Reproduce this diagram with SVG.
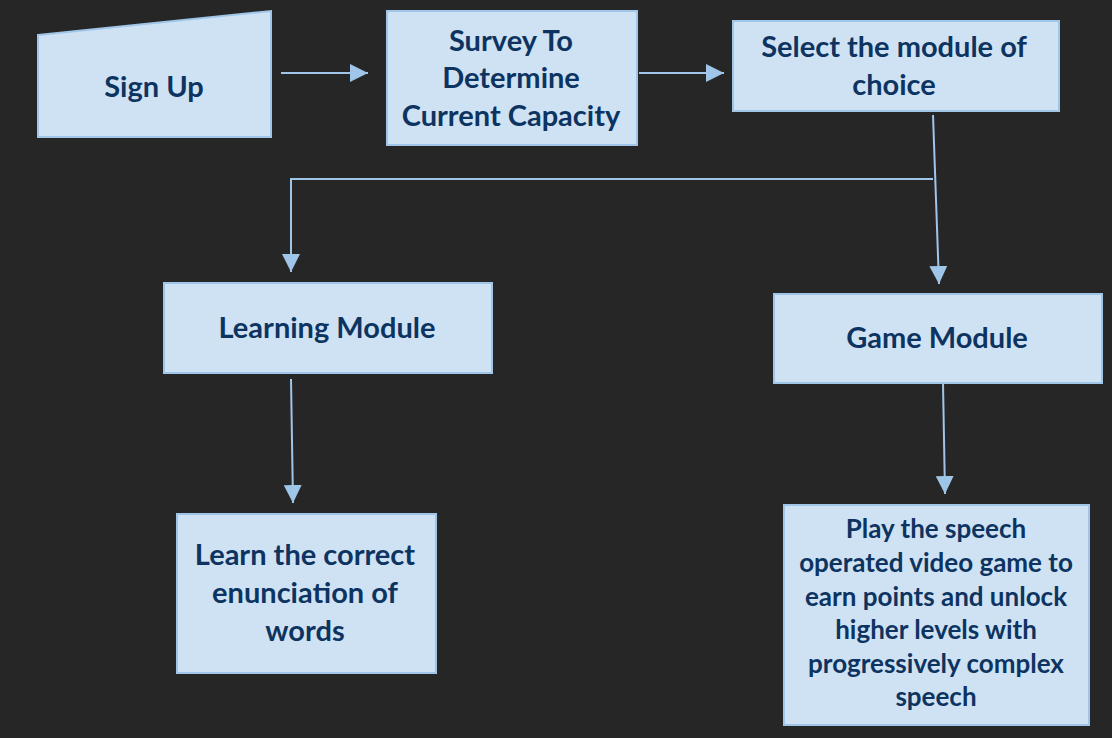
<svg xmlns="http://www.w3.org/2000/svg" width="1112" height="738" viewBox="0 0 1112 738">
<defs>
<style>
.box{fill:#cfe2f3;stroke:#9fc5e8;stroke-width:2}
.t{font-family:Lato,"Open Sans",sans-serif;font-weight:bold;font-size:29px;fill:#0d3461;text-anchor:middle}
.s{font-size:26px}
.c{fill:none;stroke:#9fc5e8;stroke-width:2}
</style>
<marker id="ah2" viewBox="0 0 10 10" refX="10" refY="5" markerWidth="18" markerHeight="18" markerUnits="userSpaceOnUse" orient="auto">
<path d="M0,0 L10,5 L0,10 Z" fill="#9fc5e8"/>
</marker>
</defs>
<rect width="1112" height="738" fill="#262626"/>
<g id="connectors">
<line class="c" x1="281" y1="73" x2="368" y2="73" marker-end="url(#ah2)"/>
<line class="c" x1="639" y1="73" x2="724" y2="73" marker-end="url(#ah2)"/>
<line class="c" x1="933" y1="115" x2="939" y2="284" marker-end="url(#ah2)"/>
<polyline class="c" points="933,179 291,179 291,272" marker-end="url(#ah2)"/>
<line class="c" x1="291" y1="379" x2="293" y2="503" marker-end="url(#ah2)"/>
<line class="c" x1="943" y1="383" x2="945" y2="494" marker-end="url(#ah2)"/>
</g>
<g id="signup">
<polygon class="box" points="38,35 271,11 271,137 38,137"/>
<text class="t" x="154" y="97">Sign Up</text>
</g>
<g id="survey">
<rect class="box" x="387" y="11" width="250" height="134"/>
<text class="t" x="511" y="51">Survey To</text>
<text class="t" x="511" y="88">Determine</text>
<text class="t" x="511" y="126">Current Capacity</text>
</g>
<g id="select">
<rect class="box" x="733" y="21" width="326" height="90"/>
<text class="t" x="894" y="57">Select the module of</text>
<text class="t" x="894" y="95">choice</text>
</g>
<g id="learning">
<rect class="box" x="164" y="283" width="328" height="90"/>
<text class="t" x="327" y="338">Learning Module</text>
</g>
<g id="learn">
<rect class="box" x="177" y="514" width="259" height="159"/>
<text class="t" x="305" y="565">Learn the correct</text>
<text class="t" x="305" y="603">enunciation of</text>
<text class="t" x="305" y="641">words</text>
</g>
<g id="game">
<rect class="box" x="774" y="294" width="328" height="89"/>
<text class="t" x="937" y="348">Game Module</text>
</g>
<g id="play">
<rect class="box" x="784" y="505" width="305" height="220"/>
<text class="t s" x="936" y="538">Play the speech</text>
<text class="t s" x="936" y="572">operated video game to</text>
<text class="t s" x="936" y="606">earn points and unlock</text>
<text class="t s" x="936" y="639">higher levels with</text>
<text class="t s" x="936" y="673">progressively complex</text>
<text class="t s" x="936" y="706">speech</text>
</g>
</svg>
